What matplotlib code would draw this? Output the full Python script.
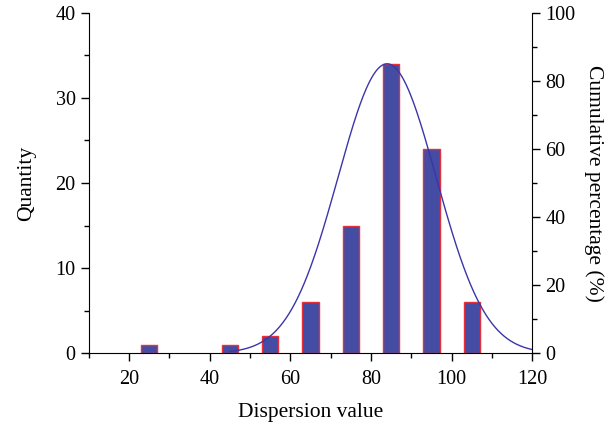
import numpy as np
import matplotlib.pyplot as plt
from matplotlib.ticker import MultipleLocator

plt.rcParams['font.family'] = ['Liberation Serif', 'DejaVu Serif']

# histogram of dispersion values
bin_centers = [25, 45, 55, 65, 75, 85, 95, 105]
counts = [1, 1, 2, 6, 15, 34, 24, 6]

# fitted normal curve (mean, std, peak height) and its plotted range
fit_mean = 84.0
fit_std = 12.2
fit_peak = 34.0
fit_range = (45, 120)

fig = plt.figure(figsize=(6.09, 4.23), dpi=100)
ax = fig.add_axes([0.1457, 0.1648, 0.7283, 0.8052])

ax.bar(bin_centers, counts, width=4.1, color='#444ca4', edgecolor='#e8303a',
       linewidth=1.0, zorder=2)

xs = np.linspace(fit_range[0], fit_range[1], 400)
ys = fit_peak * np.exp(-(xs - fit_mean) ** 2 / (2 * fit_std ** 2))
ax.plot(xs, ys, color='#3a36a8', linewidth=1.0, zorder=3)

ax.set_xlim(10, 120)
ax.set_ylim(0, 40)
ax.xaxis.set_major_locator(MultipleLocator(20))
ax.xaxis.set_minor_locator(MultipleLocator(10))
ax.yaxis.set_major_locator(MultipleLocator(10))
ax.yaxis.set_minor_locator(MultipleLocator(5))
ax.spines['top'].set_visible(False)
ax.spines['right'].set_visible(False)
ax.tick_params(which='major', direction='out', length=6, width=1, labelsize=14.5)
ax.tick_params(axis='x', which='major', pad=6)
ax.tick_params(which='minor', direction='out', length=3.5, width=1)
ax.set_xlabel('Dispersion value', fontsize=15.5, labelpad=10)
ax.set_ylabel('Quantity', fontsize=15.5, labelpad=14)

ax2 = ax.twinx()
ax2.set_ylim(0, 100)
ax2.yaxis.set_major_locator(MultipleLocator(20))
ax2.yaxis.set_minor_locator(MultipleLocator(10))
for s in ['top', 'left', 'bottom']:
    ax2.spines[s].set_visible(False)
ax2.tick_params(which='major', direction='out', length=6, width=1, labelsize=14.5)
ax2.tick_params(which='minor', direction='out', length=3.5, width=1)
ax2.set_ylabel('Cumulative percentage (%)', fontsize=15.5, rotation=270,
               labelpad=20)

fig.savefig('out.png', dpi=100)
